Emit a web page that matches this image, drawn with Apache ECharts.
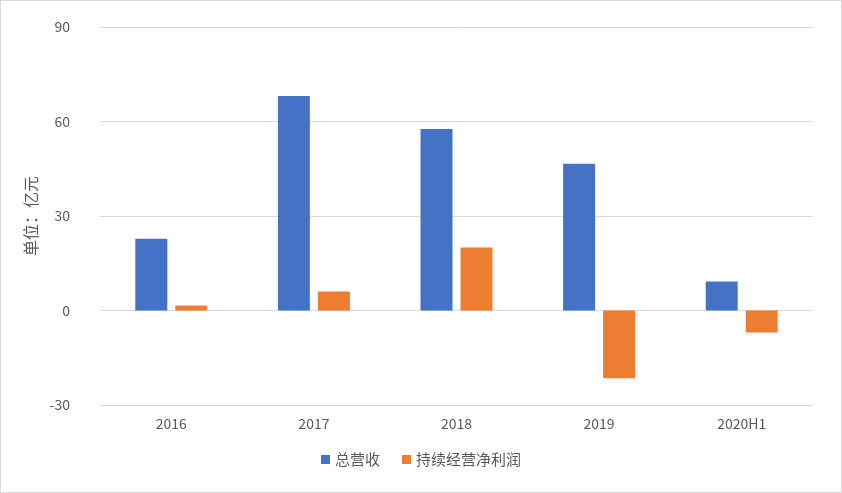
<!DOCTYPE html>
<html><head><meta charset="utf-8">
<script src="https://cdn.jsdelivr.net/npm/echarts@6/dist/echarts.min.js"></script>
<style>html,body{margin:0;padding:0;background:#fff}
#c{width:840px;height:491px;border:1px solid #d9d9d9}</style>
</head><body><div id="c"></div>
<script>
// 数据
var categories = ['2016', '2017', '2018', '2019', '2020H1'];
var revenue = [22.8, 68.1, 57.6, 46.6, 9.2];
var netProfit = [1.6, 6.0, 20.0, -21.5, -7.0];

var chart = echarts.init(document.getElementById('c'));
var font = '"Noto Sans CJK SC", sans-serif';
chart.setOption({
    color: ['#4472c4', '#ed7d31'],
    textStyle: { fontFamily: font },
    grid: { left: 99, right: 28, top: 26, bottom: 87 },
    legend: {
        bottom: 20, itemWidth: 9, itemHeight: 9, itemGap: 22,
        icon: 'rect',
        textStyle: { color: '#595959', fontSize: 15, fontFamily: font },
        data: ['总营收', '持续经营净利润']
    },
    xAxis: {
        type: 'category', data: categories,
        axisLine: { show: false }, axisTick: { show: false },
        axisLabel: { color: '#595959', fontSize: 14, margin: 12 }
    },
    yAxis: {
        type: 'value', min: -30, max: 90, interval: 30,
        name: '单位：亿元', nameLocation: 'middle', nameGap: 52,
        nameTextStyle: { color: '#595959', fontSize: 16 },
        axisLabel: { color: '#595959', fontSize: 14, margin: 30 },
        splitLine: { lineStyle: { color: '#d9d9d9' } }
    },
    series: [
        { name: '总营收', type: 'bar', data: revenue, barWidth: 32, barGap: '25%' },
        { name: '持续经营净利润', type: 'bar', data: netProfit, barWidth: 32 }
    ]
});
</script></body></html>
